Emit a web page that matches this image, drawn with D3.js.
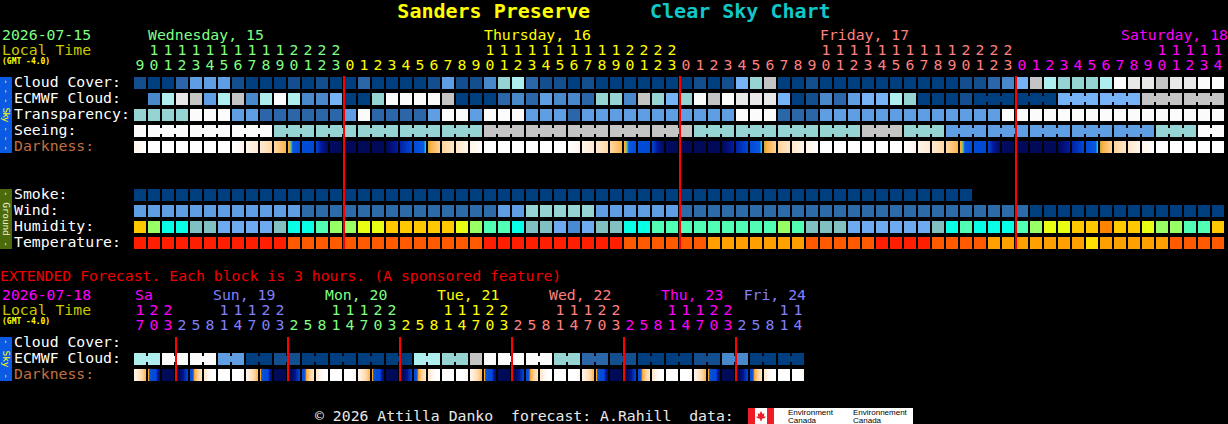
<!DOCTYPE html>
<html>
<head>
<meta charset="utf-8">
<title>Sanders Preserve Clear Sky Chart</title>
<script src="https://cdn.jsdelivr.net/npm/d3@7/dist/d3.min.js"></script>
<style>
  html, body { margin: 0; padding: 0; background: #000; }
  svg { display: block; }
  text { font-family: "DejaVu Sans Mono", "Liberation Mono", monospace; white-space: pre; }
</style>
</head>
<body>
<script>
// ---- chart data ----
var siteName = 'Sanders Preserve';
var chartName = 'Clear Sky Chart';
var mainDate = '2026-07-15';
var extDate = '2026-07-18';
var tzNote = '(GMT -4.0)';
var extNote = 'EXTENDED Forecast. Each block is 3 hours. (A sponsored feature)';
var footerNote = '\u00a9 2026 Attilla Danko  forecast: A.Rahill  data:';

// hourly part: first block is Wed 15, 09:00
var mainFirstHour = 9;
var mainDayLabels = ['Wednesday, 15', 'Thursday, 16', 'Friday, 17', 'Saturday, 18'];

var skyRows = ['Cloud Cover:', 'ECMWF Cloud:', 'Transparency:', 'Seeing:', 'Darkness:'];
var groundRows = ['Smoke:', 'Wind:', 'Humidity:', 'Temperature:'];
var extRows = ['Cloud Cover:', 'ECMWF Cloud:', 'Darkness:'];

// cloud / sky levels: 0 = clear (dark blue) ... 10 = overcast (white)
var cloudCover = [
  1, 0, 0, 2, 4, 4, 4, 1, 0, 0,
  0, 1, 0, 1, 0, 0, 2, 0, 0, 0,
  0, 1, 4, 1, 1, 3, 6, 7, 2, 1,
  1, 0, 1, 0, 0, 0, 0, 0, 0, 0,
  1, 0, 1, 5, 6, 8, 0, 0, 1, 0,
  0, 0, 0, 0, 0, 0, 0, 0, 0, 1,
  1, 2, 3, 5, 8, 7, 6, 6, 6, 7,
  10, 9, 9, 8, 9, 9, 10, 10];

var ecmwfCloud = [
  null, 3, 7, 9, 8, 4, 7, 8, 3, 7,
  10, 7, 3, 3, 5, 0, 0, 6, 10, 10,
  10, 10, 8, 0, 0, 0, 2, 3, 2, 4,
  3, 3, 2, 6, 6, 3, 8, 6, 5, 6,
  10, 8, 10, 9, 9, 9, 5, 0, 1, 3,
  2, 4, 5, 5, 7, 6, 0, 0, 0, 1,
  0, 0, 0, 0, 0, 0, 5, 5, 5, 5,
  5, 5, 8, 8, 8, 8, 8, 8];
// ECMWF switches to 3-hour steps from this block on
var ecmwf3hFrom = 60;

var transparency = [
  6, 6, 6, 6, 10, 10, 10, 4, 4, 2,
  2, 2, 2, 2, 2, 4, 10, 2, 2, 2,
  2, 4, 10, 10, 4, 10, 10, 10, 4, 4,
  4, 2, 4, 4, 4, 4, 4, 4, 4, 4,
  4, 4, 4, 10, 10, 10, 2, 2, 2, 4,
  4, 4, 4, 4, 4, 4, 4, 4, 4, 4,
  4, 4, 10, 10, 10, 10, 10, 10, 10, 10,
  10, 10, 10, 10, 10, 10, 10, 10];

var seeing = [
  10, 10, 10, 10, 10, 10, 10, 10, 10, 10,
  6, 6, 6, 6, 6, 6, 6, 6, 6, 6,
  6, 6, 6, 6, 6, 8, 8, 8, 8, 8,
  8, 8, 8, 8, 8, 8, 8, 8, 8, 8,
  6, 6, 6, 6, 6, 6, 6, 6, 6, 6,
  6, 6, 8, 8, 8, 6, 6, 6, 4, 4,
  4, 4, 4, 4, 4, 4, 4, 4, 4, 4,
  4, 4, 4, 6, 6, 6, 10, 10];

// darkness at each hour boundary (0 = daylight ... 8.8 = fully dark)
var darkness = [
  1.0, 0, 0, 0, 0, 0, 0, 0, 1.0, 2.0, 3.0, 4.4, 6.2, 6.4, 8.6,
  8.8, 8.8, 8.8, 8.8, 7.2, 6.4, 4.8, 3.2, 2.2, 1.0, 0, 0, 0, 0, 0, 0, 0, 1.0, 2.0, 3.0, 4.4, 6.2, 6.4, 8.6,
  8.8, 8.8, 8.8, 8.8, 7.2, 6.4, 4.8, 3.2, 2.2, 1.0, 0, 0, 0, 0, 0, 0, 0, 1.0, 2.0, 3.0, 4.4, 6.2, 6.4, 8.6,
  8.8, 8.8, 8.8, 8.8, 7.2, 6.4, 4.8, 3.2, 2.2, 1.0, 0, 0, 0, 0, 0, 0];

var smoke = [
  0, 0, 0, 0, 0, 0, 0, 0, 0, 0,
  0, 0, 0, 0, 0, 0, 0, 0, 0, 0,
  0, 0, 0, 0, 0, 0, 0, 0, 0, 0,
  0, 0, 0, 0, 0, 0, 0, 0, 0, 0,
  0, 0, 0, 0, 0, 0, 0, 0, 0, 0,
  0, 0, 0, 0, 0, 0, 0, 0, 0, 0,
  null, null, null, null, null, null, null, null, null, null,
  null, null, null, null, null, null, null, null];

// wind, mph
var wind = [
  14, 14, 14, 14, 14, 14, 14, 14, 14, 14,
  14, 14, 8, 8, 8, 8, 8, 8, 8, 8,
  8, 8, 8, 8, 8, 8, 14, 14, 20, 20,
  20, 20, 20, 14, 14, 14, 14, 14, 14, 8,
  8, 8, 8, 8, 8, 8, 8, 8, 8, 8,
  8, 8, 8, 8, 8, 8, 8, 8, 8, 8,
  8, 8, 8, 8, 3, 3, 3, 3, 3, 3,
  3, 3, 3, 3, 3, 3, 3, 3];

// relative humidity, %
var humidity = [
  70, 60, 50, 50, 45, 45, 40, 40, 40, 40,
  45, 50, 50, 55, 60, 60, 65, 65, 70, 70,
  70, 70, 70, 65, 60, 55, 55, 50, 45, 45,
  40, 35, 40, 45, 45, 50, 50, 55, 55, 55,
  55, 55, 55, 55, 55, 55, 60, 55, 45, 45,
  45, 40, 40, 40, 40, 40, 40, 45, 50, 55,
  50, 50, 50, 55, 60, 65, 65, 70, 70, 75,
  70, 70, 65, 60, 60, 55, 55, 70];

// temperature, deg C
var temperature = [
  29, 29, 29, 29, 29, 29, 29, 29, 29, 29,
  29, 26, 26, 26, 26, 26, 26, 26, 26, 26,
  26, 26, 26, 26, 26, 29, 29, 29, 29, 29,
  29, 29, 29, 29, 29, 26, 26, 26, 26, 26,
  26, 23, 23, 23, 23, 23, 23, 23, 26, 26,
  26, 26, 26, 29, 29, 29, 29, 26, 26, 26,
  26, 23, 23, 23, 23, 23, 23, 23, 20, 23,
  23, 23, 23, 23, 26, 26, 26, 26];

// extended part: 3-hour blocks, first block is Sat 18, 17:00
var extFirstHour = 17;
var extStep = 3;
var extDayLabels = ['Sa', 'Sun, 19', 'Mon, 20', 'Tue, 21', 'Wed, 22', 'Thu, 23', 'Fri, 24'];
var extCloudCover = [];
var extEcmwf = [
  7, 7, 10, 10, 10, 10, 4, 4, 0, 0,
  1, 1, 0, 0, 0, 0, 0, 0, 0, 0,
  7, 7, 6, 6, 8, 10, 10, 10, 10, 10,
  6, 6, 2, 2, 1, 1, 0, 0, 0, 0,
  1, 1, 3, 3, 0, 0, 0, 0];
// hourly darkness for the extended part, Sat 17:00 .. Fri 17:00
var extDarkness = [
  1.0, 2.0, 3.0, 4.4, 6.2, 6.4, 8.6,
  8.8, 8.8, 8.8, 8.8, 7.2, 6.4, 4.8, 3.2, 2.2, 1.0, 0, 0, 0, 0, 0, 0, 0, 1.0, 2.0, 3.0, 4.4, 6.2, 6.4, 8.6,
  8.8, 8.8, 8.8, 8.8, 7.2, 6.4, 4.8, 3.2, 2.2, 1.0, 0, 0, 0, 0, 0, 0, 0, 1.0, 2.0, 3.0, 4.4, 6.2, 6.4, 8.6,
  8.8, 8.8, 8.8, 8.8, 7.2, 6.4, 4.8, 3.2, 2.2, 1.0, 0, 0, 0, 0, 0, 0, 0, 1.0, 2.0, 3.0, 4.4, 6.2, 6.4, 8.6,
  8.8, 8.8, 8.8, 8.8, 7.2, 6.4, 4.8, 3.2, 2.2, 1.0, 0, 0, 0, 0, 0, 0, 0, 1.0, 2.0, 3.0, 4.4, 6.2, 6.4, 8.6,
  8.8, 8.8, 8.8, 8.8, 7.2, 6.4, 4.8, 3.2, 2.2, 1.0, 0, 0, 0, 0, 0, 0, 0, 1.0, 2.0, 3.0, 4.4, 6.2, 6.4, 8.6,
  8.8, 8.8, 8.8, 8.8, 7.2, 6.4, 4.8, 3.2, 2.2, 1.0, 0, 0, 0, 0, 0, 0, 0, 1.0];

// ---- styles ----
var W = 1228, H = 424;
var dayColors = ['#80ff80', '#ffff00', '#ff8080', '#ff00ff', '#8080ff'];
var extDayOffset = 3; // Saturday is the 4th day after Wednesday in the colour cycle

var cloudColor = d3.scaleOrdinal()
  .domain(d3.range(11))
  .range(['#003f7f', '#134f8e', '#2a66a8', '#4a88cc', '#5f9ee3', '#75b2f6',
          '#96d3d3', '#aeeeee', '#c4c4c4', '#e8e8e8', '#fbfbfb']);
var windColor = d3.scaleThreshold().domain([6, 12, 17, 29])
  .range(['#003f7f', '#2c6aa8', '#5f9ee3', '#96d3d3', '#e8e8e8']);
var humidityColor = d3.scaleThreshold().domain([38, 43, 48, 53, 58, 63, 68, 73])
  .range(['#4a8ad2', '#6eaaf0', '#80c0c0', '#08ffe6', '#50ffb4', '#98ff64', '#e8ff14', '#ffc800', '#ff8200']);
var tempColor = d3.scaleThreshold().domain([21.5, 24.5, 27.5])
  .range(['#ffe000', '#ffa000', '#ff5a00', '#ff1e00']);
var darkColor = d3.scaleLinear()
  .domain([0, 1, 2, 3, 4.4, 4.7, 4.78, 4.88, 5.1, 6.4, 7.4, 8.8])
  .range(['#ffffff', '#fff5ea', '#ffe9cf', '#ffd8a6', '#ffb24a', '#ff9c20',
          '#78c078', '#10c4f0', '#0a58e0', '#004ad6', '#00169a', '#000a58'])
  .clamp(true);

function darkStops(vals) {
  var n = 24, out = [];
  for (var k = 0; k <= n; k++) {
    var p = k / n * (vals.length - 1);
    var j = Math.min(Math.floor(p), vals.length - 2);
    var v = vals[j] + (vals[j + 1] - vals[j]) * (p - j);
    out.push({offset: k / n, color: darkColor(v)});
  }
  return out;
}

// ---- drawing ----
var csc = {};

csc.Chart = function(svg) {
  this.svg = svg;
  this.defs = svg.append('defs');
};

csc.Chart.prototype.text = function(x, y, str, color, size, weight) {
  return this.svg.append('text')
    .attr('x', x).attr('y', y)
    .attr('fill', color)
    .attr('font-size', size || 14.8)
    .attr('font-weight', weight || 'normal')
    .text(str);
};

csc.Chart.prototype.blocks = function(xs, ys, row, values, color) {
  var data = values.map(function(v, i) { return {i: i, v: v}; })
    .filter(function(d) { return d.v !== null; });
  this.svg.append('g').selectAll('rect').data(data).enter().append('rect')
    .attr('x', function(d) { return xs(d.i); })
    .attr('y', ys(row))
    .attr('width', xs.bandwidth())
    .attr('height', ys.bandwidth())
    .attr('fill', function(d) { return color(d.v); });
};

// joins neighbouring blocks of one forecast step with a narrow strip
csc.Chart.prototype.bridges = function(xs, ys, row, values, groupOf, color) {
  var links = [];
  for (var i = 0; i < values.length - 1; i++) {
    var g = groupOf(i);
    if (values[i] !== null && values[i] === values[i + 1] && g !== null && g === groupOf(i + 1)) {
      links.push({i: i, v: values[i]});
    }
  }
  this.svg.append('g').selectAll('rect').data(links).enter().append('rect')
    .attr('x', function(d) { return xs(d.i) + xs.bandwidth(); })
    .attr('y', ys(row) + 3)
    .attr('width', xs.step() - xs.bandwidth())
    .attr('height', ys.bandwidth() - 6)
    .attr('fill', function(d) { return color(d.v); });
};

csc.Chart.prototype.darkBlocks = function(xs, ys, row, n, valsFor, prefix) {
  var data = d3.range(n).map(function(i) { return {i: i, vals: valsFor(i)}; });
  var grads = this.defs.selectAll('linearGradient.' + prefix).data(data).enter()
    .append('linearGradient')
    .attr('class', prefix)
    .attr('id', function(d) { return prefix + d.i; })
    .attr('x1', 0).attr('x2', 1).attr('y1', 0).attr('y2', 0);
  grads.selectAll('stop').data(function(d) { return darkStops(d.vals); }).enter().append('stop')
    .attr('offset', function(s) { return s.offset; })
    .attr('stop-color', function(s) { return s.color; });
  this.svg.append('g').selectAll('rect').data(data).enter().append('rect')
    .attr('x', function(d) { return xs(d.i); })
    .attr('y', ys(row))
    .attr('width', xs.bandwidth())
    .attr('height', ys.bandwidth())
    .attr('fill', function(d) { return 'url(#' + prefix + d.i + ')'; });
};

csc.Chart.prototype.rowLabels = function(ys, rows) {
  var self = this;
  rows.forEach(function(r) {
    self.text(14, ys(r) + 10, r, r === 'Darkness:' ? '#c07040' : '#ffffff');
  });
};

csc.Chart.prototype.sideBar = function(y0, y1, fill, label, color) {
  var cy = (y0 + y1) / 2;
  this.svg.append('rect').attr('x', 0).attr('y', y0).attr('width', 12).attr('height', y1 - y0).attr('fill', fill);
  this.svg.append('text')
    .attr('transform', 'translate(6,' + cy + ') rotate(90)')
    .attr('text-anchor', 'middle')
    .attr('dy', '0.35em')
    .attr('font-size', 9.5)
    .attr('fill', color)
    .attr('textLength', y1 - y0 - 4)
    .attr('lengthAdjust', 'spacing')
    .text(label);
};

csc.Chart.prototype.dayLines = function(xs, y0, y1, cols) {
  this.svg.append('g').selectAll('rect').data(cols).enter().append('rect')
    .attr('x', function(i) { return xs(i) - 1; })
    .attr('y', y0)
    .attr('width', 2)
    .attr('height', y1 - y0)
    .attr('fill', '#ff0000');
};

csc.Chart.prototype.hourLabels = function(xs, hours, days, yTens, yUnits, dayOffset) {
  var g = this.svg.append('g').attr('text-anchor', 'middle');
  var cols = d3.range(hours.length);
  var color = function(i) { return dayColors[(days[i] + dayOffset) % dayColors.length]; };
  g.selectAll('text.tens').data(cols.filter(function(i) { return hours[i] >= 10; }))
    .enter().append('text').attr('class', 'tens')
    .attr('x', function(i) { return xs(i) + xs.bandwidth() / 2; })
    .attr('y', yTens).attr('font-size', 14.8)
    .attr('fill', color)
    .text(function(i) { return Math.floor(hours[i] / 10); });
  g.selectAll('text.units').data(cols)
    .enter().append('text').attr('class', 'units')
    .attr('x', function(i) { return xs(i) + xs.bandwidth() / 2; })
    .attr('y', yUnits).attr('font-size', 14.8)
    .attr('fill', color)
    .text(function(i) { return hours[i] % 10; });
};

csc.Chart.prototype.main = function() {
  var self = this;

  // title
  var t = this.svg.append('text')
    .attr('x', W / 2).attr('y', 18)
    .attr('text-anchor', 'middle')
    .attr('font-size', 20).attr('font-weight', 'bold');
  t.append('tspan').attr('fill', '#ffff00').text(siteName);
  t.append('tspan').attr('fill', '#10c8c8').attr('dx', 60).text(chartName);

  // ---- hourly part ----
  var n = cloudCover.length;
  var x = d3.scaleBand().domain(d3.range(n)).range([134, 134 + n * 14 - 2]).paddingInner(1 / 7);
  var ySky = d3.scaleBand().domain(skyRows).range([77, 153]).paddingInner(0.25);
  var yGround = d3.scaleBand().domain(groundRows).range([189, 249]).paddingInner(0.25);

  var hours = d3.range(n).map(function(i) { return (mainFirstHour + i) % 24; });
  var days = d3.range(n).map(function(i) { return Math.floor((mainFirstHour + i) / 24); });

  this.text(2, 40, mainDate, dayColors[0]);
  this.text(2, 55, 'Local Time', '#c8c800');
  this.text(2, 64, tzNote, '#ffff00', 8, 'bold');

  mainDayLabels.forEach(function(lbl, d) {
    var col = d3.range(n).find(function(i) { return days[i] === d && hours[i] === 10; });
    if (col === undefined) col = days.indexOf(d);
    var el = self.text(x(col), 40, lbl, dayColors[d % dayColors.length]);
    var w = el.node().getComputedTextLength();
    if (x(col) + w > W) el.attr('x', W - w);
  });
  this.hourLabels(x, hours, days, 55, 70, 0);

  this.sideBar(77, 153, '#0a5ae6', '- - - Sky - - -', '#ffff00');
  this.sideBar(189, 249, '#4b6a0a', '- Ground -', '#f0f0d0');
  this.rowLabels(ySky, skyRows);
  this.rowLabels(yGround, groundRows);

  this.blocks(x, ySky, 'Cloud Cover:', cloudCover, cloudColor);
  this.blocks(x, ySky, 'ECMWF Cloud:', ecmwfCloud, cloudColor);
  this.bridges(x, ySky, 'ECMWF Cloud:', ecmwfCloud, function(i) {
    return i >= ecmwf3hFrom ? Math.floor((mainFirstHour + i) / 3) : null;
  }, cloudColor);
  this.blocks(x, ySky, 'Transparency:', transparency, cloudColor);
  this.blocks(x, ySky, 'Seeing:', seeing, cloudColor);
  this.bridges(x, ySky, 'Seeing:', seeing, function(i) {
    return Math.floor((mainFirstHour + i - 1) / 3);
  }, cloudColor);
  this.darkBlocks(x, ySky, 'Darkness:', n, function(i) { return darkness.slice(i, i + 2); }, 'dk');

  this.blocks(x, yGround, 'Smoke:', smoke, cloudColor);
  this.blocks(x, yGround, 'Wind:', wind, windColor);
  this.blocks(x, yGround, 'Humidity:', humidity, humidityColor);
  this.blocks(x, yGround, 'Temperature:', temperature, tempColor);

  var midnights = d3.range(n).filter(function(i) { return i > 0 && hours[i] === 0; });
  this.dayLines(x, 76, 249, midnights);

  // ---- extended part ----
  var m = extEcmwf.length;
  var xE = d3.scaleBand().domain(d3.range(m)).range([134, 134 + m * 14 - 2]).paddingInner(1 / 7);
  var yExt = d3.scaleBand().domain(extRows).range([337, 381]).paddingInner(0.25);
  var eHours = d3.range(m).map(function(i) { return (extFirstHour + extStep * i) % 24; });
  var eDays = d3.range(m).map(function(i) { return Math.floor((extFirstHour + extStep * i) / 24); });

  this.text(0, 281, extNote, '#f00000');
  this.text(2, 300, extDate, dayColors[extDayOffset % dayColors.length]);
  this.text(2, 315, 'Local Time', '#c8c800');
  this.text(2, 324, tzNote, '#ffff00', 8, 'bold');

  var extRight = xE(m - 1) + xE.bandwidth() + 2;
  extDayLabels.forEach(function(lbl, d) {
    var start = eDays.indexOf(d);
    var color = dayColors[(d + extDayOffset) % dayColors.length];
    var el = self.text(0, 300, lbl, color);
    var w = el.node().getComputedTextLength();
    var lx = (start === 0 && eHours[0] > 2) ? xE(0) + 1 : Math.min(xE(start) + 37, extRight - w);
    el.attr('x', lx);
  });
  this.hourLabels(xE, eHours, eDays, 315, 330, extDayOffset);

  this.sideBar(337, 381, '#0a5ae6', '- Sky -', '#ffff00');
  this.rowLabels(yExt, extRows);

  this.blocks(xE, yExt, 'Cloud Cover:', extCloudCover, cloudColor);
  this.blocks(xE, yExt, 'ECMWF Cloud:', extEcmwf, cloudColor);
  this.bridges(xE, yExt, 'ECMWF Cloud:', extEcmwf, function(i) { return Math.floor(i / 2); }, cloudColor);
  this.darkBlocks(xE, yExt, 'Darkness:', m, function(i) {
    return extDarkness.slice(i * extStep, i * extStep + extStep + 1);
  }, 'edk');

  var newDays = d3.range(1, m).filter(function(i) { return eDays[i] !== eDays[i - 1]; });
  this.dayLines(xE, 337, 381, newDays);

  // ---- footer ----
  this.text(315, 421, footerNote, '#e8e8e8');
  this.logo(748, 408);
};

csc.Chart.prototype.logo = function(lx, ly) {
  var g = this.svg.append('g').attr('transform', 'translate(' + lx + ',' + ly + ')');
  g.append('rect').attr('x', 0).attr('y', 0).attr('width', 26).attr('height', 16).attr('fill', '#ffffff');
  g.append('rect').attr('x', 0).attr('y', 0).attr('width', 7).attr('height', 16).attr('fill', '#ee1c25');
  g.append('rect').attr('x', 19).attr('y', 0).attr('width', 7).attr('height', 16).attr('fill', '#ee1c25');
  g.append('path')
    .attr('d', 'M13,3 L14.5,6 L16.5,5.2 L15.6,9 L17.5,8 L17,10 L14,10.8 L13.5,13 L12.5,13 L12,10.8 L9,10 L8.5,8 L10.4,9 L9.5,5.2 L11.5,6 Z')
    .attr('fill', '#ee1c25');
  g.append('rect').attr('x', 26).attr('y', 0).attr('width', 139).attr('height', 16).attr('fill', '#ffffff');
  var lab = g.append('g').attr('fill', '#000000');
  [['Environment', 40, 7], ['Canada', 40, 14.5], ['Environnement', 105, 7], ['Canada', 105, 14.5]].forEach(function(d) {
    lab.append('text').attr('x', d[1]).attr('y', d[2]).attr('font-size', 8)
      .style('font-family', '"Liberation Sans", Arial, sans-serif').text(d[0]);
  });
};

var svg = d3.select('body').append('svg').attr('width', W).attr('height', H);
var chart = new csc.Chart(svg);
chart.main();
</script>
</body>
</html>
